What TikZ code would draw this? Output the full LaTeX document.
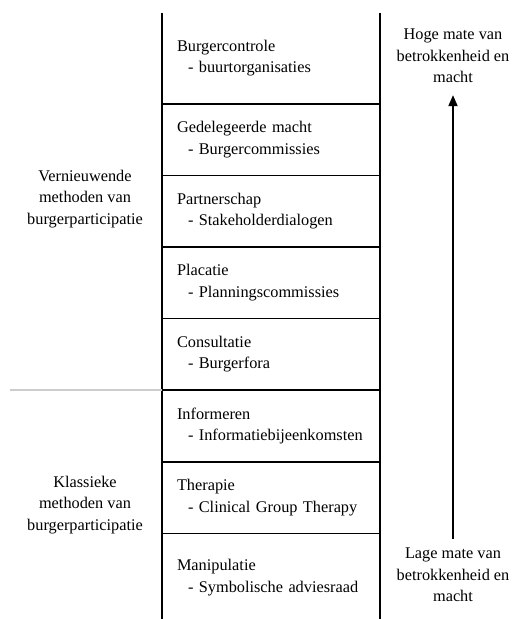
\documentclass[tikz,border=0pt]{standalone}
\usepackage{fontspec}
\setmainfont{Liberation Serif}
\usetikzlibrary{arrows.meta,positioning}
\tikzstyle{rung} = [draw=none, minimum height=71.2pt, text width=188pt, inner xsep=15pt, inner ysep=0pt, align=left, font=\fontsize{16.3}{21.5}\selectfont]
\tikzstyle{side} = [align=center, inner sep=0pt, font=\fontsize{16.3}{21.5}\selectfont]
\tikzstyle{rail} = [draw=black, line width=1.8pt]
\tikzstyle{rungline} = [draw=black, line width=1.6pt]
\tikzstyle{divider} = [draw=black!20, line width=1.3pt]
\tikzstyle{uparrow} = [-{Triangle[width=9pt,length=11pt]}, line width=1.8pt]
\newcommand{\sub}[1]{\\\hspace*{11pt}- #1}

\begin{document}
\begin{tikzpicture}[x=1pt, y=-1pt, node distance=0pt]
    \useasboundingbox (0,0) rectangle (517,619);

    % ladder rungs, top to bottom
    \node[rung, minimum height=90.5pt] (r8) at (271,58.25) {Burgercontrole\sub{buurtorganisaties}};
    \node[rung] (r7) [below=of r8] {Gedelegeerde macht\sub{Burgercommissies}};
    \node[rung] (r6) [below=of r7] {Partnerschap\sub{Stakeholderdialogen}};
    \node[rung] (r5) [below=of r6] {Placatie\sub{Planningscommissies}};
    \node[rung] (r4) [below=of r5] {Consultatie\sub{Burgerfora}};
    \node[rung] (r3) [below=of r4] {Informeren\sub{Informatiebijeenkomsten}};
    \node[rung] (r2) [below=of r3] {Therapie\sub{Clinical Group Therapy}};
    \node[rung, minimum height=88pt] (r1) [below=of r2] {Manipulatie\sub{Symbolische adviesraad}};

    % rails and rung lines
    \draw[rail] (r8.north west) -- (r1.south west);
    \draw[rail] (r8.north east) -- (r1.south east);
    \foreach \n in {8,...,2}
      \draw[rungline] (r\n.south west) -- (r\n.south east);

    % left side: groups of methods
    \draw[divider] (r4.south west) -- ++(-152,0);
    \node[side] (newm) at (85,199) {Vernieuwende\\methoden van\\burgerparticipatie};
    \node[side] (oldm) at (85,505) {Klassieke\\methoden van\\burgerparticipatie};

    % right side: degree of involvement
    \node[side] (high) at (453,56) {Hoge mate van\\betrokkenheid en\\macht};
    \node[side] (low) at (453,575) {Lage mate van\\betrokkenheid en\\macht};
    \draw[uparrow, shorten >=12pt, shorten <=9pt] (low.north) -- (high.south);
\end{tikzpicture}
\end{document}
